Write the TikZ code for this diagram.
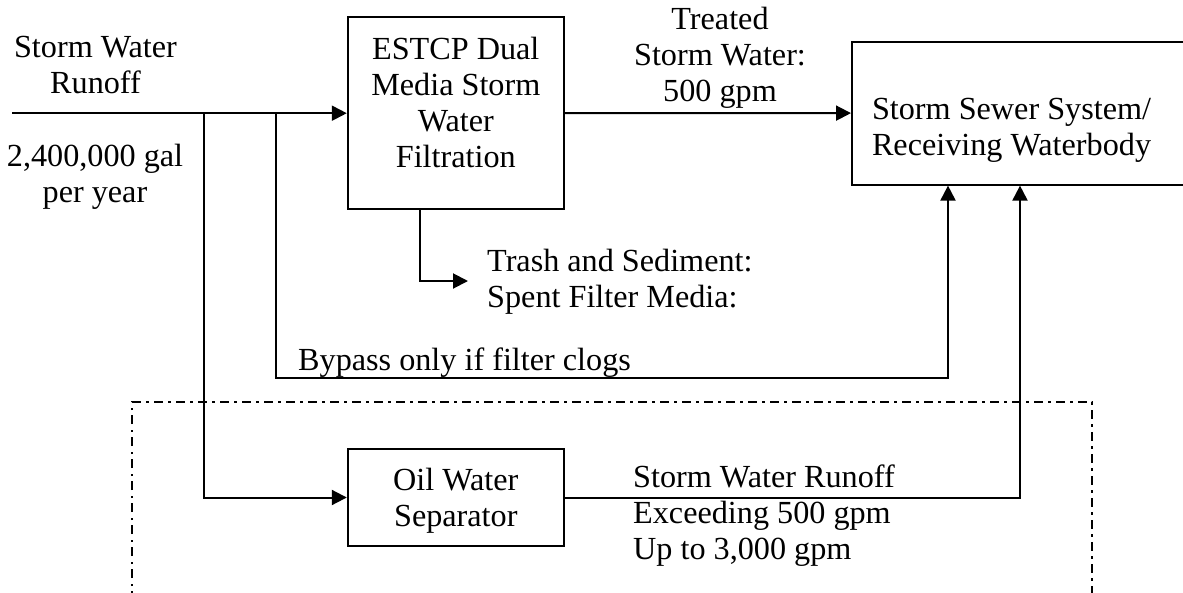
\documentclass[tikz,border=0pt]{standalone}
\usepackage{fontspec}
\setmainfont{Liberation Serif}
\usetikzlibrary{arrows.meta}
\begin{document}
\begin{tikzpicture}[x=1pt,y=-1pt,
  every node/.style={font=\fontsize{32.2}{36}\selectfont, inner sep=0pt},
  box/.style={draw, line width=2pt, align=center},
  flow/.style={line width=2pt, -{Triangle[length=15pt,width=15pt]}},
  lbl/.style={align=center},
  lbll/.style={align=left, anchor=west},
  frame/.style={line width=1.8pt, dash pattern=on 9pt off 5pt on 2.5pt off 5.5pt}]
\useasboundingbox (0,0) rectangle (1183,592);

% dash-dot enclosure (open at the bottom edge of the picture)
\draw[frame] (132,600) -- (132,402) -- (1092,402) -- (1092,600);

% boxes
\node[box, minimum width=216pt, minimum height=192pt] (estcp) at (455.8,113.2)
  {ESTCP Dual\\Media Storm\\Water\\Filtration\rule[-22pt]{0pt}{22pt}};
\node[box, align=flush left, text width=293pt, inner xsep=20pt, inner ysep=0pt, minimum height=143pt] (sewer) at (1018.5,113.1)
  {\rule{0pt}{55pt}Storm Sewer System/\\Receiving Waterbody};
\node[box, minimum width=216pt, minimum height=96.4pt] (ows) at (455.8,497.5)
  {\rule{0pt}{28pt}Oil Water\\Separator};

% labels
\node[lbl] (inlbl) at (95.5,64.5) {Storm Water\\Runoff};
\node[lbl] (vol) at (95,177) {2,400,000 gal\\per year};
\node[lbl] (treated) at (720,57.7) {Treated\\Storm Water:\\500 gpm};
\node[lbll] (trash) at (487,281.7) {Trash and Sediment:\\Spent Filter Media:};
\node[anchor=base west] (bypass) at (298,370) {Bypass only if filter clogs};
\node[lbll] (excess) at (633,515.7) {Storm Water Runoff\\Exceeding 500 gpm\\Up to 3,000 gpm};

% coordinates
\coordinate (src) at (12,113.2);
\coordinate (j1) at (204,113.2);
\coordinate (j2) at (276,113.2);
\coordinate (bp) at (948,378);
\coordinate (obx) at (1020,0);
\coordinate (t0) at (420,0);
\coordinate (tr) at (468,281);

% connectors
\draw[flow] (src) -- (estcp.west);
\draw[flow] (estcp.east) -- (sewer.west);
\draw[flow] (j1) |- (ows.west);
\draw[flow] (j2) |- (bp) -- (sewer.south -| bp);
\draw[flow] (ows.east) -| (sewer.south -| obx);
\draw[flow] (estcp.south -| t0) |- (tr);
\end{tikzpicture}
\end{document}
